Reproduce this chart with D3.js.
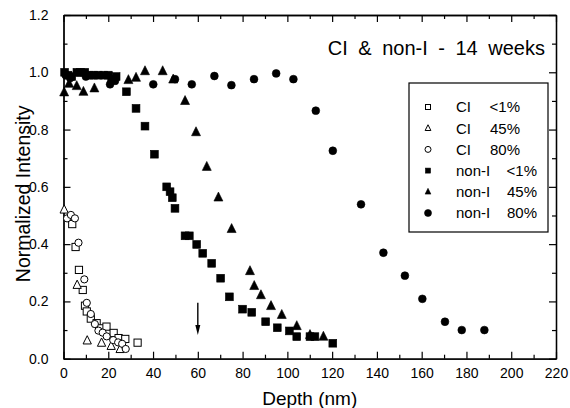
<!DOCTYPE html>
<html>
<head>
<meta charset="utf-8">
<script src="https://cdn.jsdelivr.net/npm/d3@7"></script>
<style>
  body { margin: 0; background: #fff; }
  text { font-family: "Liberation Sans", Arial, sans-serif; fill: #000; }
</style>
</head>
<body>
<div id="chart"></div>
<script>
// depth (nm), normalized intensity
const ciLow = [[3.9,0.47],[5.4,0.39],[6.9,0.31],[8.6,0.24],[9.6,0.185],[10.4,0.165],[12.2,0.14],[14.8,0.124],[16.8,0.106],[19.2,0.112],[22.4,0.09],[24.6,0.072],[27.6,0.069],[33.1,0.056]];
const ci45 = [[0.3,0.52],[6.1,0.257],[10.6,0.063],[17,0.055],[21.3,0.044],[25.3,0.033]];
const ci80 = [[1.6,0.49],[3.3,0.502],[5.1,0.49],[6.7,0.405],[9.3,0.277],[10.4,0.195],[12.2,0.156],[14.0,0.121],[15.6,0.098],[17.5,0.091],[19.3,0.078],[22.2,0.065],[24.4,0.057],[26.2,0.052],[27.8,0.034]];
const nonILow = [[0.5,1.0],[2,0.99],[3.7,0.985],[6,1.0],[7.6,1.0],[9.5,1.0],[11.5,0.99],[13.5,0.99],[15.5,0.99],[18,0.99],[20,0.99],[21.5,0.975],[23.5,0.985],[28.1,0.932],[32.4,0.874],[36.4,0.812],[40.6,0.714],[46.1,0.60],[47.6,0.583],[48.6,0.562],[49.8,0.525],[54.3,0.429],[56.2,0.429],[59.5,0.399],[62.2,0.368],[66.2,0.333],[70.2,0.281],[74.1,0.216],[80.0,0.173],[84.1,0.162],[90.3,0.129],[95.5,0.108],[100.9,0.097],[104.2,0.077],[110.1,0.077],[112.3,0.077],[120.3,0.054]];
const nonI45 = [[0.3,0.93],[2.5,0.96],[5.9,0.952],[8.9,0.932],[13.8,0.944],[29.0,0.973],[32.4,0.981],[36.4,1.004],[44.3,1.004],[49.0,0.975],[54.3,0.90],[59.2,0.791],[64.0,0.67],[69.2,0.563],[75.1,0.453],[83.3,0.306],[85.2,0.254],[88.2,0.222],[92.7,0.184],[97.5,0.153],[104.2,0.114],[110.1,0.083],[116.1,0.077]];
const nonI80 = [[1,0.99],[3,0.98],[10,0.985],[20.8,0.958],[23,0.97],[40.1,0.958],[49.8,0.976],[57.3,0.958],[67.4,0.987],[75.0,0.955],[85.1,0.976],[95.0,0.996],[102.7,0.976],[112.7,0.866],[120.3,0.726],[132.9,0.539],[142.9,0.37],[152.5,0.29],[160.3,0.209],[170.4,0.129],[177.9,0.1],[188.0,0.1]];

const legendSample = ["CI", "CI", "CI", "non-I", "non-I", "non-I"];
const legendHumidity = ["<1%", "45%", "80%", "<1%", "45%", "80%"];
const xTicks = [0,20,40,60,80,100,120,140,160,180,200,220];
const yTicks = [0.0,0.2,0.4,0.6,0.8,1.0,1.2];
const arrowDepth = 60, arrowFrom = 0.195, arrowTo = 0.083;

const series = [
  {data: ciLow, shape: "square", filled: false},
  {data: ci45, shape: "triangle", filled: false},
  {data: ci80, shape: "circle", filled: false},
  {data: nonILow, shape: "square", filled: true},
  {data: nonI45, shape: "triangle", filled: true},
  {data: nonI80, shape: "circle", filled: true}
];

var margin = {top: 15, right: 14, bottom: 49.3, left: 63.5},
    width = 570 - margin.left - margin.right,
    height = 408 - margin.top - margin.bottom;

var svg = d3.select("#chart")
  .append("svg")
    .attr("width", 570)
    .attr("height", 408)
  .append("g")
    .attr("transform", "translate(" + margin.left + "," + margin.top + ")");

const x = d3.scaleLinear().domain([0, 220]).range([0, width]);
const y = d3.scaleLinear().domain([0, 1.2]).range([height, 0]);

const xMinor = d3.range(10, 220, 20);
const yMinor = d3.range(0.1, 1.2, 0.2);

function styleAxis(g) {
  g.selectAll("path.domain").attr("stroke", "#000").attr("stroke-width", 1.3);
  g.selectAll(".tick line").attr("stroke", "#000").attr("stroke-width", 1.2);
  g.selectAll("text").style("font-size", "14px").attr("fill", "#000");
}

// bottom
svg.append("g").attr("transform", "translate(0," + height + ")")
  .call(d3.axisBottom(x).tickValues(xTicks).tickSize(-7).tickSizeOuter(0).tickPadding(9))
  .call(styleAxis);
svg.append("g").attr("transform", "translate(0," + height + ")")
  .call(d3.axisBottom(x).tickValues(xMinor).tickSize(-4).tickSizeOuter(0).tickFormat(""))
  .call(styleAxis);
// top
svg.append("g")
  .call(d3.axisTop(x).tickValues(xTicks).tickSize(-7).tickSizeOuter(0).tickFormat(""))
  .call(styleAxis);
svg.append("g")
  .call(d3.axisTop(x).tickValues(xMinor).tickSize(-4).tickSizeOuter(0).tickFormat(""))
  .call(styleAxis);
// left
svg.append("g")
  .call(d3.axisLeft(y).tickValues(yTicks).tickSize(-7).tickSizeOuter(0).tickPadding(15).tickFormat(d3.format(".1f")))
  .call(styleAxis);
svg.append("g")
  .call(d3.axisLeft(y).tickValues(yMinor).tickSize(-4).tickSizeOuter(0).tickFormat(""))
  .call(styleAxis);
// right
svg.append("g").attr("transform", "translate(" + width + ",0)")
  .call(d3.axisRight(y).tickValues(yTicks).tickSize(-7).tickSizeOuter(0).tickFormat(""))
  .call(styleAxis);
svg.append("g").attr("transform", "translate(" + width + ",0)")
  .call(d3.axisRight(y).tickValues(yMinor).tickSize(-4).tickSizeOuter(0).tickFormat(""))
  .call(styleAxis);

svg.selectAll("text").attr("font-family", null);

// axis titles
svg.append("text")
  .attr("x", width / 2).attr("y", height + 46)
  .attr("text-anchor", "middle")
  .style("font-size", "19px")
  .text("Depth (nm)");
svg.append("text")
  .attr("transform", "rotate(-90)")
  .attr("x", -height / 2 - 7).attr("y", -34)
  .attr("text-anchor", "middle")
  .style("font-size", "19.5px")
  .text("Normalized Intensity");

// chart title
svg.append("text")
  .attr("x", width - 11).attr("y", 40)
  .attr("text-anchor", "end")
  .style("font-size", "20px")
  .style("word-spacing", "5px")
  .text("CI & non-I - 14 weeks");

function drawMarker(g, shape, filled, size) {
  const fill = filled ? "#000" : "#fff";
  if (shape === "square") {
    g.append("rect").attr("x", -size / 2).attr("y", -size / 2)
      .attr("width", size).attr("height", size);
  } else if (shape === "triangle") {
    const s = size * 1.15;
    g.append("path").attr("d", "M0," + (-s * 0.6) + "L" + (s / 2) + "," + (s * 0.4) + "L" + (-s / 2) + "," + (s * 0.4) + "Z");
  } else {
    g.append("circle").attr("r", size / 2);
  }
  g.selectAll("*").attr("fill", fill).attr("stroke", "#000").attr("stroke-width", filled ? 0.6 : 1);
}

series.forEach(s => {
  svg.append("g").selectAll("g")
    .data(s.data)
    .enter()
    .append("g")
      .attr("transform", d => "translate(" + x(d[0]) + "," + y(d[1]) + ")")
      .each(function() { drawMarker(d3.select(this), s.shape, s.filled, s.filled ? 7.8 : 7.2); });
});

// arrow at 60 nm
svg.append("line")
  .attr("x1", x(arrowDepth)).attr("x2", x(arrowDepth))
  .attr("y1", y(arrowFrom)).attr("y2", y(arrowTo) - 8)
  .attr("stroke", "#000").attr("stroke-width", 1.4);
svg.append("path")
  .attr("d", "M" + (x(arrowDepth) - 2.5) + "," + (y(arrowTo) - 10) + "L" + (x(arrowDepth) + 2.5) + "," + (y(arrowTo) - 10) + "L" + x(arrowDepth) + "," + y(arrowTo) + "Z")
  .attr("fill", "#000");

// legend
const lx = 409 - margin.left, ly = 83 - margin.top;
svg.append("rect")
  .attr("x", lx).attr("y", ly)
  .attr("width", 139).attr("height", 149)
  .attr("fill", "#fff").attr("stroke", "#000").attr("stroke-width", 1.2);

const legend = svg.selectAll(".legend")
  .data(series)
  .enter()
  .append("g")
    .attr("transform", (d, i) => "translate(" + (lx + 19) + "," + (ly + 24 + i * 21.2) + ")");
legend.each(function(d) {
  const g = d3.select(this).append("g");
  drawMarker(g, d.shape, d.filled, d.shape === "circle" ? (d.filled ? 7 : 6) : 5);
});
legend.append("text")
  .attr("x", 28).attr("dy", "0.36em")
  .style("font-size", "15px")
  .text((d, i) => legendSample[i]);
legend.append("text")
  .attr("x", (d, i) => i < 3 ? 92 : 109).attr("dy", "0.36em")
  .attr("text-anchor", "end")
  .style("font-size", "15px")
  .text((d, i) => legendHumidity[i]);
</script>
</body>
</html>
